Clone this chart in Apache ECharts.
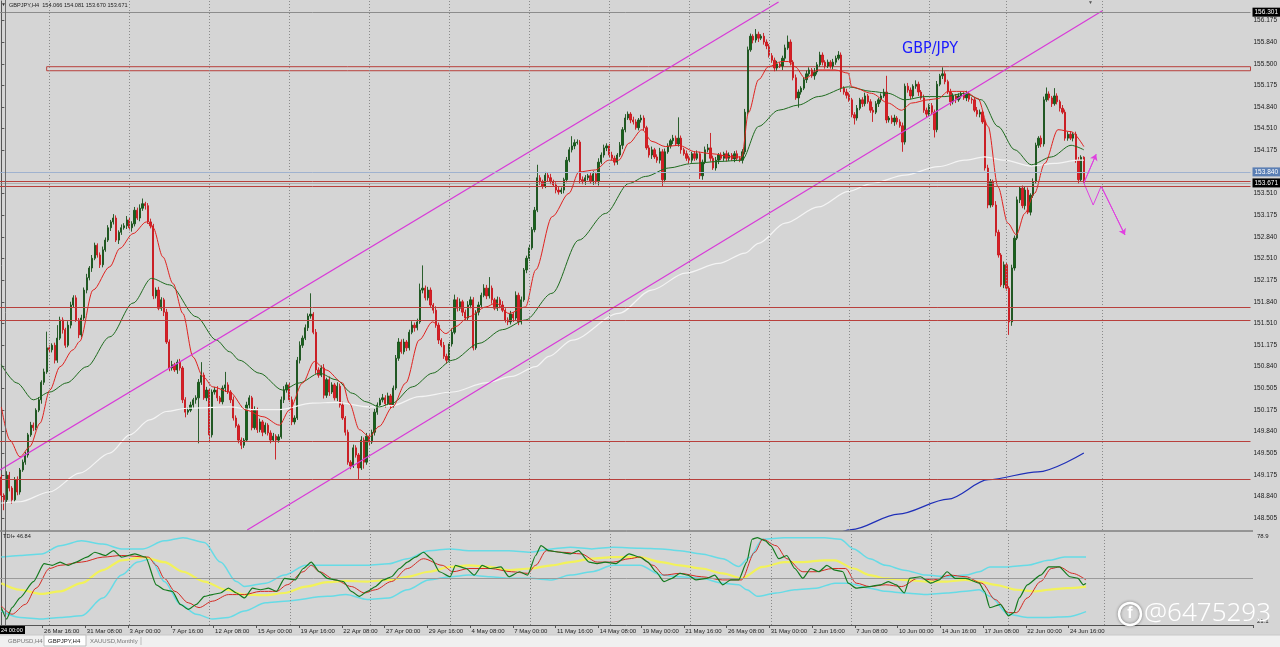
<!DOCTYPE html>
<html><head><meta charset="utf-8">
<script src="https://cdn.jsdelivr.net/npm/echarts/dist/echarts.min.js"></script>
<style>html,body{margin:0;padding:0;background:#f0f0f0;overflow:hidden}#c{width:1280px;height:647px}</style>
</head><body><div id="c"></div>
<script>
// ---------- DATA ----------
const symbolTitle = 'GBP/JPY';
const headerText = 'GBPJPY,H4  154.066 154.081 153.670 153.671';
const firstOpen = 149.14;
const closes = [
148.86,148.79,149.17,148.97,148.79,149.10,148.91,149.25,149.37,149.48,
149.79,149.94,149.90,150.17,150.33,150.60,150.76,151.13,151.10,151.17,
150.94,151.28,151.56,151.41,151.17,151.48,151.79,151.90,151.56,151.33,
151.59,152.02,152.21,152.36,152.51,152.71,152.56,152.41,152.64,152.79,
152.98,153.07,153.13,152.79,152.91,152.98,153.01,153.10,152.98,153.04,
153.25,153.13,153.28,153.35,153.32,153.07,153.01,151.93,152.02,151.74,
151.87,151.68,151.22,150.82,150.87,150.79,150.91,150.82,150.33,150.14,
150.17,150.25,150.33,150.36,150.60,150.71,150.36,150.48,149.79,150.45,
150.48,150.36,150.30,150.51,150.56,150.45,150.33,150.05,149.93,149.71,
149.63,149.71,150.25,150.36,149.90,150.17,149.87,149.99,149.83,149.94,
149.82,149.71,149.77,149.71,149.76,150.33,150.48,150.56,150.33,149.99,
150.05,150.94,151.17,151.28,151.44,151.62,151.65,151.37,150.79,150.71,
150.82,150.40,150.64,150.45,150.56,150.36,150.54,150.25,150.05,149.83,
149.37,149.31,149.59,149.48,149.28,149.71,149.37,149.77,149.68,149.83,
150.14,150.25,150.33,150.36,150.27,150.39,150.25,150.51,150.97,151.22,
151.07,151.22,151.13,151.37,151.48,151.44,151.53,152.02,152.05,151.90,
152.02,151.79,151.71,151.48,151.25,151.17,151.00,150.94,151.19,151.37,
151.87,151.74,151.84,151.68,151.59,151.79,151.87,151.13,151.68,151.79,
151.94,152.05,151.93,152.05,151.87,151.74,151.87,151.79,151.71,151.56,
151.53,151.65,151.59,151.94,151.53,151.87,152.33,152.51,152.67,152.95,
153.25,153.75,153.69,153.62,153.79,153.75,153.69,153.64,153.56,153.53,
153.56,153.72,154.02,154.18,154.24,154.29,154.30,153.72,153.69,153.75,
153.78,153.69,153.81,153.69,153.99,154.10,154.21,154.24,154.10,154.05,
153.99,154.10,154.25,154.49,154.67,154.73,154.64,154.61,154.52,154.64,
154.67,154.52,154.21,154.10,154.18,154.07,154.02,154.15,153.72,154.15,
154.24,154.32,154.36,154.27,154.36,154.18,154.12,154.05,154.02,154.12,
154.05,154.12,153.78,153.99,154.18,154.21,154.05,153.90,154.02,154.10,
154.05,154.12,154.05,154.10,154.04,154.12,154.05,154.02,154.15,154.76,
155.72,155.93,155.87,155.96,155.90,155.93,155.84,155.78,155.63,155.56,
155.44,155.50,155.47,155.59,155.75,155.84,155.53,155.29,154.98,155.07,
155.13,155.26,155.35,155.41,155.32,155.38,155.49,155.64,155.53,155.47,
155.53,155.47,155.53,155.59,155.64,155.13,155.07,155.02,154.95,154.72,
154.67,154.82,154.95,154.89,155.01,154.92,154.79,154.76,154.89,154.95,
155.01,155.07,154.64,154.67,154.61,154.67,154.61,154.55,154.30,155.16,
155.10,155.01,155.16,155.19,155.07,154.98,154.79,154.73,154.86,154.76,
154.49,155.19,155.32,155.35,155.23,155.07,154.92,155.01,154.95,155.01,
155.04,154.98,155.04,154.96,154.95,154.79,154.73,154.76,154.61,153.90,
153.33,153.69,153.33,152.91,152.56,152.10,152.41,152.05,151.53,152.36,
152.82,153.41,153.59,153.32,153.56,153.22,153.48,153.69,154.25,154.36,
154.27,154.95,155.04,154.98,154.89,155.01,154.92,154.82,154.76,154.36,
154.42,154.36,154.42,154.02,153.72,154.066,153.671
];
// upper / lower wick lengths in pips (0.01)
const wickUp = [
4,3,6,5,3,4,5,3,4,5, 3,5,4,3,4,3,5,25,4,3, 4,20,5,4,3,6,5,4,4,3, 5,4,6,3,5,4,3,4,5,4,
4,3,6,4,3,5,4,6,3,4, 5,4,6,8,3,4,5,3,4,5, 4,3,5,4,6,3,4,5,3,4, 4,5,3,4,5,20,4,5,3,4,
5,6,3,4,20,4,3,5,4,3, 4,3,5,4,3,6,4,5,3,4, 3,4,5,3,4,5,6,4,3,5, 4,5,6,4,5,4,32,3,5,4,
4,6,3,5,4,3,6,4,5,3, 4,3,5,4,3,6,4,5,3,4, 5,4,3,6,4,5,3,4,5,6, 4,5,3,4,6,4,5,10,35,4,
5,4,3,6,4,3,5,4,3,6, 8,4,5,3,4,6,5,4,3,5, 4,6,5,17,4,3,5,4,6,3, 4,5,3,6,4,5,3,4,5,4,
5,20,4,3,5,4,6,3,4,5, 4,3,5,4,15,5,4,3,5,4, 3,5,4,3,6,4,5,4,3,5, 4,3,5,4,6,4,3,5,4,3,
5,4,3,4,5,3,4,6,4,5, 4,3,5,4,32,4,3,5,4,3, 4,5,3,4,5,6,23,4,5,3, 4,3,5,4,3,4,5,3,4,5,
5,4,3,8,4,3,5,4,3,4, 4,5,3,4,5,10,4,3,5,4, 3,4,5,4,3,6,4,5,4,3, 4,3,5,4,6,4,3,5,4,3,
4,5,3,4,5,3,4,5,4,3, 4,5,25,3,4,5,3,4,5,4, 5,4,3,6,4,3,5,4,3,4, 4,5,3,10,4,3,5,4,3,4,
4,3,5,4,3,4,5,4,3,4, 5,4,3,6,4,3,5,4,3,5, 4,5,3,4,6,4,3,5,4,3, 4,5,10,4,3,12,4,3,5,4,
4,5,3,4,5,3,1.5
];
const wickDn = [
8,16,4,5,6,3,5,4,3,4, 4,3,5,4,3,6,4,3,5,4, 5,4,3,6,4,3,5,4,3,5, 4,3,5,4,6,3,4,5,4,3,
3,5,4,3,6,4,3,5,4,6, 4,3,5,4,6,3,4,5,4,3, 4,6,3,5,4,3,6,4,5,8, 4,3,5,6,70,4,3,5,10,4,
4,5,3,4,6,3,5,4,3,5, 6,4,3,5,4,3,5,4,6,3, 4,5,3,30,4,3,5,4,3,5, 4,3,5,4,3,5,4,3,6,4,
3,5,4,6,3,4,5,4,3,5, 4,5,3,4,18,3,10,4,5,3, 5,4,3,4,6,3,5,4,3,4, 3,4,5,4,3,6,4,3,5,4,
4,3,5,4,6,3,4,5,4,4, 3,5,4,6,3,4,5,4,3,5, 4,3,5,4,6,3,4,5,3,4, 5,4,6,3,5,4,3,5,4,3,
4,3,5,4,3,6,4,3,5,4, 3,5,4,3,4,5,3,6,4,5, 4,3,5,4,6,3,4,5,4,3, 5,4,3,6,4,3,5,4,3,4,
4,5,3,4,6,3,4,5,11,4, 3,4,5,3,4,6,3,4,5,4, 4,3,5,6,3,4,5,3,4,6, 3,4,5,4,3,5,4,3,5,4,
4,3,5,4,6,3,4,5,3,4, 5,4,3,6,4,3,5,4,3,15, 4,3,5,4,3,6,4,3,5,4, 3,4,5,4,3,6,4,5,3,4,
10,4,3,5,4,3,4,15,3,5, 4,3,5,4,3,6,4,3,15,4, 4,5,3,4,6,3,4,5,3,4, 12,4,3,5,4,3,6,4,5,3,
4,3,5,4,6,3,4,5,3,4, 5,4,3,6,4,3,5,4,20,6, 4,3,5,4,6,3,5,4,3,4, 5,4,3,4,5,3,4,5,3,4,
4,3,5,4,6,3,0.1
];
const totalSlots = 469;            // bars + empty right margin (chart shift)
const xTickLabels = ['26 Mar 16:00','31 Mar 08:00','3 Apr 00:00','7 Apr 16:00','12 Apr 08:00','15 Apr 00:00','19 Apr 16:00','22 Apr 08:00','27 Apr 00:00','29 Apr 16:00','4 May 08:00','7 May 00:00','11 May 16:00','14 May 08:00','19 May 00:00','21 May 16:00','26 May 08:00','31 May 00:00','2 Jun 16:00','7 Jun 08:00','10 Jun 00:00','14 Jun 16:00','17 Jun 08:00','22 Jun 00:00','24 Jun 16:00'];
const xTickFirst = 16, xTickStep = 16;
const yTicks = [148.505,148.840,149.175,149.505,149.840,150.175,150.505,150.840,151.175,151.510,151.840,152.175,152.510,152.840,153.175,153.510,153.840,154.175,154.510,154.840,155.175,155.500,155.840,156.175];
const priceMin = 148.325, priceMax = 156.472;
const tdiMin = 21.1, tdiMax = 78.9, tdiLevel = 50;
const vGridBars = [18,48,78,108,138,168,198,228,258,288,318,348,377,413];
const levelLines = [153.704,153.623,151.764,151.559,149.685,149.106];
const zoneTop = 155.460, zoneBottom = 155.398, zoneStartBar = 17;
const topLine = 156.301, blueLine = 153.840, bidLine = 153.671;

const maWhite = [[0,148.74],[7,148.76],[18,148.91],[29.4,149.20],[40.7,149.51],[48.2,149.79],[55.6,150.02],[61.9,150.15],[69.4,150.20],[85.6,150.22],[94.2,150.18],[104.3,150.18],[116.7,150.28],[125.5,150.29],[138,150.22],[146.6,150.24],[156.7,150.38],[169.1,150.45],[181.7,150.59],[191.5,150.69],[200.4,150.84],[205.4,151.0],[214.1,151.25],[231.6,151.66],[243.9,152.02],[256.5,152.28],[269,152.43],[279,152.59],[284,152.74],[294,153.05],[306.4,153.30],[317.7,153.54],[326.3,153.66],[338.9,153.79],[351.3,153.92],[361.3,154.02],[368.8,154.07],[376.3,154.02],[386.2,153.93],[395,153.97],[403.7,154.02],[406,154.02]];
const maGreen = [[0,150.87],[5.8,150.59],[12,150.33],[18.2,150.45],[24.5,150.59],[32,150.84],[40.7,151.30],[49.4,151.82],[56.3,152.20],[63.1,152.10],[73.1,151.61],[80.6,151.25],[85.6,151.07],[89.3,150.94],[96.8,150.74],[105.5,150.48],[111.8,150.59],[119.3,150.74],[125.5,150.64],[131.7,150.43],[136.8,150.30],[141.7,150.22],[146.7,150.28],[154.2,150.53],[161.7,150.74],[169.2,150.94],[179.2,151.20],[187.9,151.41],[196.6,151.56],[206.5,151.97],[216.6,152.79],[226.6,153.20],[235.3,153.66],[241.6,153.77],[250.3,153.90],[259,153.97],[269,154.00],[277.7,154.02],[284,154.54],[291.5,154.79],[299,154.87],[306.4,155.00],[317.7,155.15],[326.3,155.08],[332.6,155.05],[338.9,154.95],[346.4,155.00],[353.9,155.00],[361.3,155.05],[367.6,154.95],[373.8,154.54],[380.1,154.18],[386.3,153.95],[393.8,154.07],[401.2,154.25],[406,154.18]];
const maRed = [[0,150.22],[3.2,149.71],[7,149.45],[10.7,149.61],[14.5,149.97],[18.2,150.48],[22,150.84],[26.9,151.10],[29.4,151.23],[34.4,152.02],[40.7,152.38],[44.4,152.66],[49.4,152.89],[54.4,153.07],[56.9,152.98],[60.6,152.53],[64.4,152.12],[68.1,151.66],[71.9,150.99],[75.6,150.69],[79.3,150.53],[85.6,150.45],[91.8,150.17],[98.1,150.07],[104.3,149.94],[108,150.17],[113,150.59],[117.4,150.92],[121.8,150.79],[128,150.59],[130.5,150.28],[134.3,149.87],[138,149.76],[141.7,149.92],[146.7,150.22],[151.7,150.59],[156.7,151.25],[161.7,151.53],[166.7,151.35],[170.4,151.46],[175.4,151.61],[181.7,151.76],[185.4,151.82],[190.4,151.66],[196.6,151.76],[200.4,152.33],[206.6,153.15],[212.9,153.51],[216.6,153.84],[222.8,153.87],[227.8,154.02],[231.6,154.02],[235.3,154.28],[240.3,154.49],[244,154.31],[249,154.23],[254,154.25],[260.3,154.15],[266.5,154.12],[274,154.07],[277.7,154.07],[280.2,154.75],[284,155.26],[287.7,155.46],[292.7,155.54],[295.2,155.54],[297.7,155.46],[301.5,155.28],[306.4,155.41],[312.7,155.41],[317.7,155.36],[318.9,155.15],[326.4,155.05],[332.6,154.90],[337.6,154.79],[341.4,154.90],[347.6,154.95],[351.4,154.97],[355.1,155.08],[361.3,155.08],[366.3,154.97],[370.1,154.54],[373.8,153.61],[377.5,153.05],[380.7,152.87],[383.8,153.20],[387.5,153.51],[391.3,153.97],[396.3,154.49],[401.2,154.46],[406,154.23]];
const maBlue = [[310,148.20],[318.8,148.33],[336.4,148.57],[355.1,148.80],[370.1,149.10],[388.8,149.22],[406,149.51]];
const channelUpper = [[-0.5,149.249],[291.5,156.456]];
const channelLower = [[92.2,148.325],[413.1,156.325]];
const arrowUp = [[406,153.67],[410.6,154.11]];
const arrowDown = [[406,153.67],[409.5,153.33],[412.5,153.62],[421.4,152.87]];

const tdiRsi = [[0,31.9],[2,24.8],[4,31.9],[7,38],[12,48],[16,59.2],[19,58.2],[22,60.2],[25,58.2],[28,60.2],[32,63.3],[35,66.3],[39,64.3],[42,67.3],[45,63.3],[50,65.3],[54,63.3],[58,46],[61,43],[64,42],[67,33.9],[70,30.8],[73,33.9],[76,38.9],[79,40],[82,41],[85,44],[88,41],[91,37.9],[94,44],[97,43],[100,44],[103,42],[106,50.1],[110,49.1],[113,56.2],[116,60.2],[119,54.2],[122,50.1],[125,49.1],[128,48.1],[131,42],[134,38.9],[137,42],[140,45],[143,49.1],[146,51.1],[149,56.2],[152,60.2],[155,63.3],[158,66.3],[161,62.3],[164,54.2],[168,51.1],[170,58.2],[174,56.2],[177,52.1],[180,58.2],[183,56.2],[187,57.2],[190,51.1],[194,54.2],[197,52.1],[200,64.3],[202,70.4],[205,67.3],[209,66.3],[213,65.3],[216,67.3],[220,60.2],[223,59.2],[226,60.2],[230,59.2],[235,65.3],[239,63.3],[242,60.2],[245,54.2],[248,48.1],[251,50.1],[254,53.2],[257,52.1],[260,49.1],[264,50.1],[267,52.1],[270,46.1],[273,49.1],[276,49.1],[279,60.2],[281,74.4],[283,75.4],[286,73.4],[288,70.4],[291,62.3],[294,64.3],[297,56.2],[300,50.1],[303,56.2],[306,54.2],[309,58.2],[312,55.2],[315,54.2],[317,47.1],[320,44],[325,45],[329,46.1],[332,48.1],[335,46.1],[338,41],[340,50.1],[344,51.1],[348,47.1],[351,49.1],[354,54.2],[357,50.1],[361,50.1],[366,47.1],[368,42],[370,31.9],[374,33.9],[377,26.8],[379,28.8],[381,37.9],[384,46.1],[389,52.1],[392,57.2],[396,57.2],[400,51.1],[403,50.1],[405,46.1],[406,46.84]];
const tdiSignal = [[0,32.9],[4,27.8],[9,33.9],[13,44],[18,56.2],[22,58.2],[30,60.2],[38,63.3],[45,64.3],[55,63.3],[58,58.2],[61,50.1],[65,42],[70,34.9],[74,31.9],[79,35.9],[85,40],[91,40],[97,42],[103,42],[107,46.1],[113,54.2],[116,58.2],[119,54.2],[125,49.1],[131,45],[136,41],[140,43],[146,48.1],[152,56.2],[158,62.3],[165,58.2],[169,54.2],[175,56.2],[183,56.2],[191,54.2],[197,53.2],[200,58.2],[204,67.3],[210,66.3],[217,65.3],[223,60.2],[229,60.2],[235,62.3],[239,63.3],[244,58.2],[248,52.1],[254,53.2],[262,51.1],[270,49.1],[277,49.1],[282,66.3],[285,74.4],[290,70.4],[294,62.3],[300,54.2],[305,54.2],[311,56.2],[316,56.2],[320,47.1],[325,45],[331,46.1],[337,45],[343,50.1],[349,49.1],[355,52.1],[361,51.1],[367,47.1],[372,36.9],[377,28.8],[380,28.8],[384,37.9],[389,48.1],[393,56.2],[396,57.2],[401,53.2],[406,49.1]];
const tdiBase = [[0,47.1],[7,43],[15,40.4],[22,42],[30,47.1],[38,55.2],[45,61.3],[53,63.3],[61,60.2],[68,54.2],[76,48.1],[84,43],[91,40],[99,39.6],[106,41],[114,45],[122,47.7],[129,48.5],[137,48.1],[145,49.1],[152,51.1],[160,54.2],[168,57.2],[175,58.2],[183,57.2],[190,55.2],[198,56.2],[206,58.2],[213,60.2],[221,62.3],[229,63.3],[239,63.3],[247,60.2],[254,58.2],[262,56.2],[270,53.2],[277,50.1],[285,57.2],[293,60.2],[300,60.2],[308,61.3],[312,61.3],[319,56.2],[325,52.1],[331,50.1],[338,49.1],[346,48.1],[354,48.1],[361,49.1],[366,48.1],[372,46.1],[380,43],[387,42],[392,43],[399,44],[406,45]];
const tdiUpper = [[0,63.3],[7,64.3],[15,65.3],[22,70.4],[30,73.4],[38,71.4],[45,68.4],[53,68.4],[61,73.4],[68,75.4],[76,72.4],[82,60.2],[88,48.1],[91,45],[99,47.1],[106,52.1],[114,58.2],[122,58.2],[129,58.2],[137,58.2],[145,59.2],[152,62.3],[160,67.3],[168,68.4],[175,67.3],[183,67.3],[190,67.3],[198,66.3],[206,68.4],[213,69.4],[221,68.4],[229,69.4],[239,68.8],[247,68.4],[254,67.3],[262,65.3],[270,62.3],[276,57.5],[280,63],[285,74.4],[293,75.4],[300,75.4],[308,75.4],[314,74.4],[319,68.4],[325,62.3],[331,58.2],[338,55.2],[346,52.1],[354,51.1],[361,52.1],[366,54.2],[370,57.2],[377,57.2],[384,58.2],[392,61.3],[398,63.3],[406,63.3]];
const tdiLower = [[0,29.8],[7,25.8],[15,24.8],[22,25.8],[30,26.8],[38,37.9],[45,52.1],[51,60.2],[56,62.3],[61,48.1],[67,33.9],[73,27.8],[79,24.8],[85,25.8],[91,29.8],[99,34.9],[106,35.9],[122,38.9],[129,40],[137,36.9],[145,37.9],[152,43],[160,49.1],[168,51.1],[175,52.1],[183,51.1],[190,50.1],[198,50.1],[206,49.1],[213,52.1],[221,54.2],[229,58.2],[239,58.2],[247,52.1],[254,51.1],[262,50.1],[270,47.1],[276,46.1],[279,43],[283,38.9],[290,41],[297,43],[305,44],[312,47.1],[317,47.1],[325,44],[331,42],[338,41],[346,40],[354,41],[361,42],[366,43],[370,38.9],[377,27.8],[384,25.8],[392,25.8],[399,26.2],[406,29.4]];
const tdiLabel = 'TDI+ 46.84';

// ---------- BUILD ----------
const pip = 0.01;
const cats = Array.from({length: totalSlots}, (_, i) => String(i));
const ohlc = closes.map((c, i) => {
  const o = i === 0 ? firstOpen : closes[i - 1];
  const hi = Math.max(o, c) + (wickUp[i] || 0) * pip;
  const lo = Math.min(o, c) - (wickDn[i] || 0) * pip;
  return [o, c, lo, hi];
});
const tickSet = new Set(xTickLabels.map((_, k) => xTickFirst + k * xTickStep));
const FONT = "'Liberation Sans', Arial, sans-serif";
const GL = {left: 0, width: 1253};
const LEVEL_COLOR = '#b8403c';
const chart = echarts.init(document.getElementById('c'));

function ln(name, data, color, width, xi, yi, extra) {
  return Object.assign({name, type: 'line', xAxisIndex: xi, yAxisIndex: yi, data, symbol: 'none',
    smooth: 0.3, smoothMonotone: 'x', lineStyle: {color, width}, silent: true, z: 4, animation: false}, extra || {});
}
function priceTag(v, text, lineColor, bg) {
  return {yAxis: v, lineStyle: {color: lineColor, width: 1, type: 'solid'},
    label: {show: true, position: 'end', formatter: text, backgroundColor: bg, color: '#fff',
      fontSize: 6.5, fontFamily: FONT, padding: [1, 2], distance: 2}};
}

const option = {
  animation: false,
  backgroundColor: '#d5d5d5',
  grid: [
    {left: GL.left, width: GL.width, top: 1, height: 529},
    {left: GL.left, width: GL.width, top: 532, height: 93}
  ],
  xAxis: [
    {type: 'category', gridIndex: 0, data: cats, boundaryGap: true, axisLine: {show: false}, axisTick: {show: false}, axisLabel: {show: false}, splitLine: {show: false}},
    {type: 'category', gridIndex: 1, data: cats, boundaryGap: true,
      axisLine: {show: true, lineStyle: {color: '#555', width: 1}},
      axisTick: {show: true, interval: (i) => tickSet.has(i), length: 3, lineStyle: {color: '#555'}},
      axisLabel: {show: true, interval: (i) => tickSet.has(i), align: 'left', margin: 3, fontSize: 6, color: '#222', fontFamily: FONT,
        formatter: (v, i) => { const k = (Number(v) - xTickFirst) / xTickStep; return xTickLabels[k] || ''; }},
      splitLine: {show: false}},
    {type: 'value', gridIndex: 0, min: -0.5, max: totalSlots - 0.5, show: false},
    {type: 'value', gridIndex: 1, min: -0.5, max: totalSlots - 0.5, show: false}
  ],
  yAxis: [
    {type: 'value', gridIndex: 0, position: 'right', min: priceMin, max: priceMax,
      axisLine: {show: true, lineStyle: {color: '#555'}},
      axisTick: {show: true, customValues: yTicks, length: 3, lineStyle: {color: '#555'}},
      axisLabel: {show: true, customValues: yTicks, formatter: (v) => v.toFixed(3), fontSize: 6.5, color: '#1a1a1a', margin: 3, fontFamily: FONT},
      splitLine: {show: false}},
    {type: 'value', gridIndex: 1, position: 'right', min: tdiMin, max: tdiMax,
      axisLine: {show: true, lineStyle: {color: '#555'}}, axisTick: {show: false}, axisLabel: {show: false}, splitLine: {show: false}}
  ],
  series: [
    {type: 'candlestick', name: 'GBPJPY', xAxisIndex: 0, yAxisIndex: 0, data: ohlc, barWidth: 1.8, z: 3,
      itemStyle: {color: '#17641a', color0: '#d81f26', borderColor: '#17501a', borderColor0: '#c8161c', borderWidth: 0.9},
      markLine: {silent: true, symbol: 'none', label: {show: false}, animation: false,
        lineStyle: {color: '#8a8a8a', type: [1, 2], width: 1},
        data: vGridBars.map(b => ({xAxis: b}))}
    },
    ln('MA slow', maWhite, '#f4f4f4', 1.2, 2, 0),
    ln('MA mid', maGreen, '#1e6b1e', 1, 2, 0),
    ln('MA fast', maRed, '#e0221f', 1, 2, 0),
    ln('MA long', maBlue, '#1f2fb8', 1.2, 2, 0, {
      markLine: {silent: true, symbol: 'none', label: {show: false}, animation: false,
        data: [
          priceTag(topLine, topLine.toFixed(3), '#8c8c8c', '#000'),
          priceTag(blueLine, blueLine.toFixed(3), '#9fb2cf', '#5b7fb4'),
          priceTag(bidLine, bidLine.toFixed(3), 'rgba(150,150,150,0.6)', '#000')
        ]}}),
    ln('Channel up', channelUpper, '#d83ad8', 1.2, 2, 0, {smooth: false,
      markLine: {silent: true, symbol: 'none', label: {show: false}, animation: false,
        lineStyle: {color: LEVEL_COLOR, type: 'solid', width: 1},
        data: levelLines.map(v => ({yAxis: v}))},
      markArea: {silent: true, itemStyle: {color: 'rgba(0,0,0,0)', borderColor: LEVEL_COLOR, borderWidth: 1},
        data: [[{xAxis: zoneStartBar, yAxis: zoneTop}, {xAxis: totalSlots - 0.5, yAxis: zoneBottom}]]}}),
    ln('Channel low', channelLower, '#d83ad8', 1.2, 2, 0, {smooth: false}),
    ln('Arrow up', arrowUp, '#e040e0', 1, 2, 0, {smooth: false, clip: false,
      markLine: {silent: true, symbol: ['none', 'arrow'], symbolSize: 6, label: {show: false}, lineStyle: {color: '#e040e0', width: 1, type: 'solid'},
        data: [[{coord: arrowUp[0]}, {coord: arrowUp[1]}], [{coord: arrowDown[2]}, {coord: arrowDown[3]}]]}}),
    ln('Arrow down', arrowDown, '#e040e0', 1, 2, 0, {smooth: false, clip: false}),
    // TDI panel
    ln('TDI upper', tdiUpper, '#66dbe6', 1.5, 3, 1, {z: 3,
      markLine: {silent: true, symbol: 'none', label: {show: false},
        data: [...vGridBars.map(b => ({xAxis: b, lineStyle: {color: '#8a8a8a', type: [1, 2], width: 1}})),
               {yAxis: tdiLevel, lineStyle: {color: '#9a9a9a', type: 'solid', width: 1}}]}}),
    ln('TDI lower', tdiLower, '#66dbe6', 1.5, 3, 1, {z: 3}),
    ln('TDI base', tdiBase, '#f2f25a', 2.2, 3, 1, {z: 3}),
    ln('TDI signal', tdiSignal, '#d42a22', 1, 3, 1, {z: 4}),
    ln('TDI rsi', tdiRsi, '#137a1e', 1.2, 3, 1, {z: 5, smooth: 0.2})
  ],
  graphic: [
    {type: 'line', shape: {x1: 0, y1: 531, x2: 1253, y2: 531}, style: {stroke: '#555', lineWidth: 1}, z: 50},
    {type: 'line', shape: {x1: 5.5, y1: 0, x2: 5.5, y2: 625}, style: {stroke: '#6a6a6a', lineWidth: 1}, z: 50},
    {type: 'text', x: 1, y: 5, style: {text: '▼', fontSize: 5, fill: '#333', textVerticalAlign: 'middle'}, z: 60},
    {type: 'text', x: 9, y: 5, style: {text: headerText, fontSize: 5.6, fontFamily: FONT, fill: '#222', textVerticalAlign: 'middle'}, z: 60},
    {type: 'text', x: 1088, y: 3, style: {text: '▼', fontSize: 5, fill: '#555', textVerticalAlign: 'middle'}, z: 60},
    {type: 'text', x: 902, y: 49, style: {text: symbolTitle, fontSize: 16, fontFamily: "'Liberation Sans Narrow','DejaVu Sans Condensed',sans-serif", fill: '#1a1aff', textVerticalAlign: 'middle'}, z: 60},
    {type: 'text', x: 3, y: 536, style: {text: tdiLabel, fontSize: 5.6, fontFamily: FONT, fill: '#222', textVerticalAlign: 'middle'}, z: 60},
    {type: 'text', x: 1257, y: 536, style: {text: tdiMax.toFixed(1), fontSize: 6, fontFamily: FONT, fill: '#222', textVerticalAlign: 'middle'}, z: 60},
    {type: 'text', x: 1257, y: 621, style: {text: tdiMin.toFixed(1), fontSize: 6, fontFamily: FONT, fill: '#222', textVerticalAlign: 'middle'}, z: 60},
    {type: 'rect', shape: {x: 0, y: 626, width: 25, height: 8}, style: {fill: '#000'}, z: 60},
    {type: 'text', x: 1, y: 630, style: {text: '24 00:00', fontSize: 5.6, fontFamily: FONT, fill: '#fff', textVerticalAlign: 'middle'}, z: 61},
    // tab bar
    {type: 'rect', shape: {x: 0, y: 635, width: 1280, height: 12}, style: {fill: '#f0f0f0'}, z: 60},
    {type: 'line', shape: {x1: 0, y1: 635, x2: 1280, y2: 635}, style: {stroke: '#c8c8c8', lineWidth: 1}, z: 61},
    {type: 'text', x: 8, y: 641, style: {text: 'GBPUSD,H4', fontSize: 6, fontFamily: FONT, fill: '#777', textVerticalAlign: 'middle'}, z: 62},
    {type: 'rect', shape: {x: 44, y: 635, width: 42, height: 11}, style: {fill: '#fff', stroke: '#bdbdbd', lineWidth: 1}, z: 61},
    {type: 'text', x: 48, y: 641, style: {text: 'GBPJPY,H4', fontSize: 6, fontFamily: FONT, fill: '#222', textVerticalAlign: 'middle'}, z: 62},
    {type: 'text', x: 90, y: 641, style: {text: 'XAUUSD,Monthly', fontSize: 6, fontFamily: FONT, fill: '#777', textVerticalAlign: 'middle'}, z: 62},
    {type: 'line', shape: {x1: 141, y1: 637, x2: 141, y2: 645}, style: {stroke: '#bbb', lineWidth: 1}, z: 61},
    // watermark
    {type: 'circle', shape: {cx: 1130, cy: 614, r: 11}, style: {fill: 'none', stroke: '#fff', lineWidth: 2.5, shadowColor: 'rgba(0,0,0,0.45)', shadowBlur: 3}, z: 70},
    {type: 'text', x: 1130, y: 614, style: {text: 'f', fontSize: 16, fontWeight: 'bold', fontFamily: FONT, fill: '#fff', textAlign: 'center', textVerticalAlign: 'middle'}, z: 71},
    {type: 'text', x: 1144, y: 614, style: {text: '@6475293', fontSize: 26, fontFamily: "'Noto Sans', sans-serif", fontWeight: 300, fill: '#ffffff', textVerticalAlign: 'middle', shadowColor: 'rgba(0,0,0,0.55)', shadowBlur: 3, shadowOffsetX: 1, shadowOffsetY: 1}, z: 70}
  ]
};
chart.setOption(option);
</script>
</body></html>
